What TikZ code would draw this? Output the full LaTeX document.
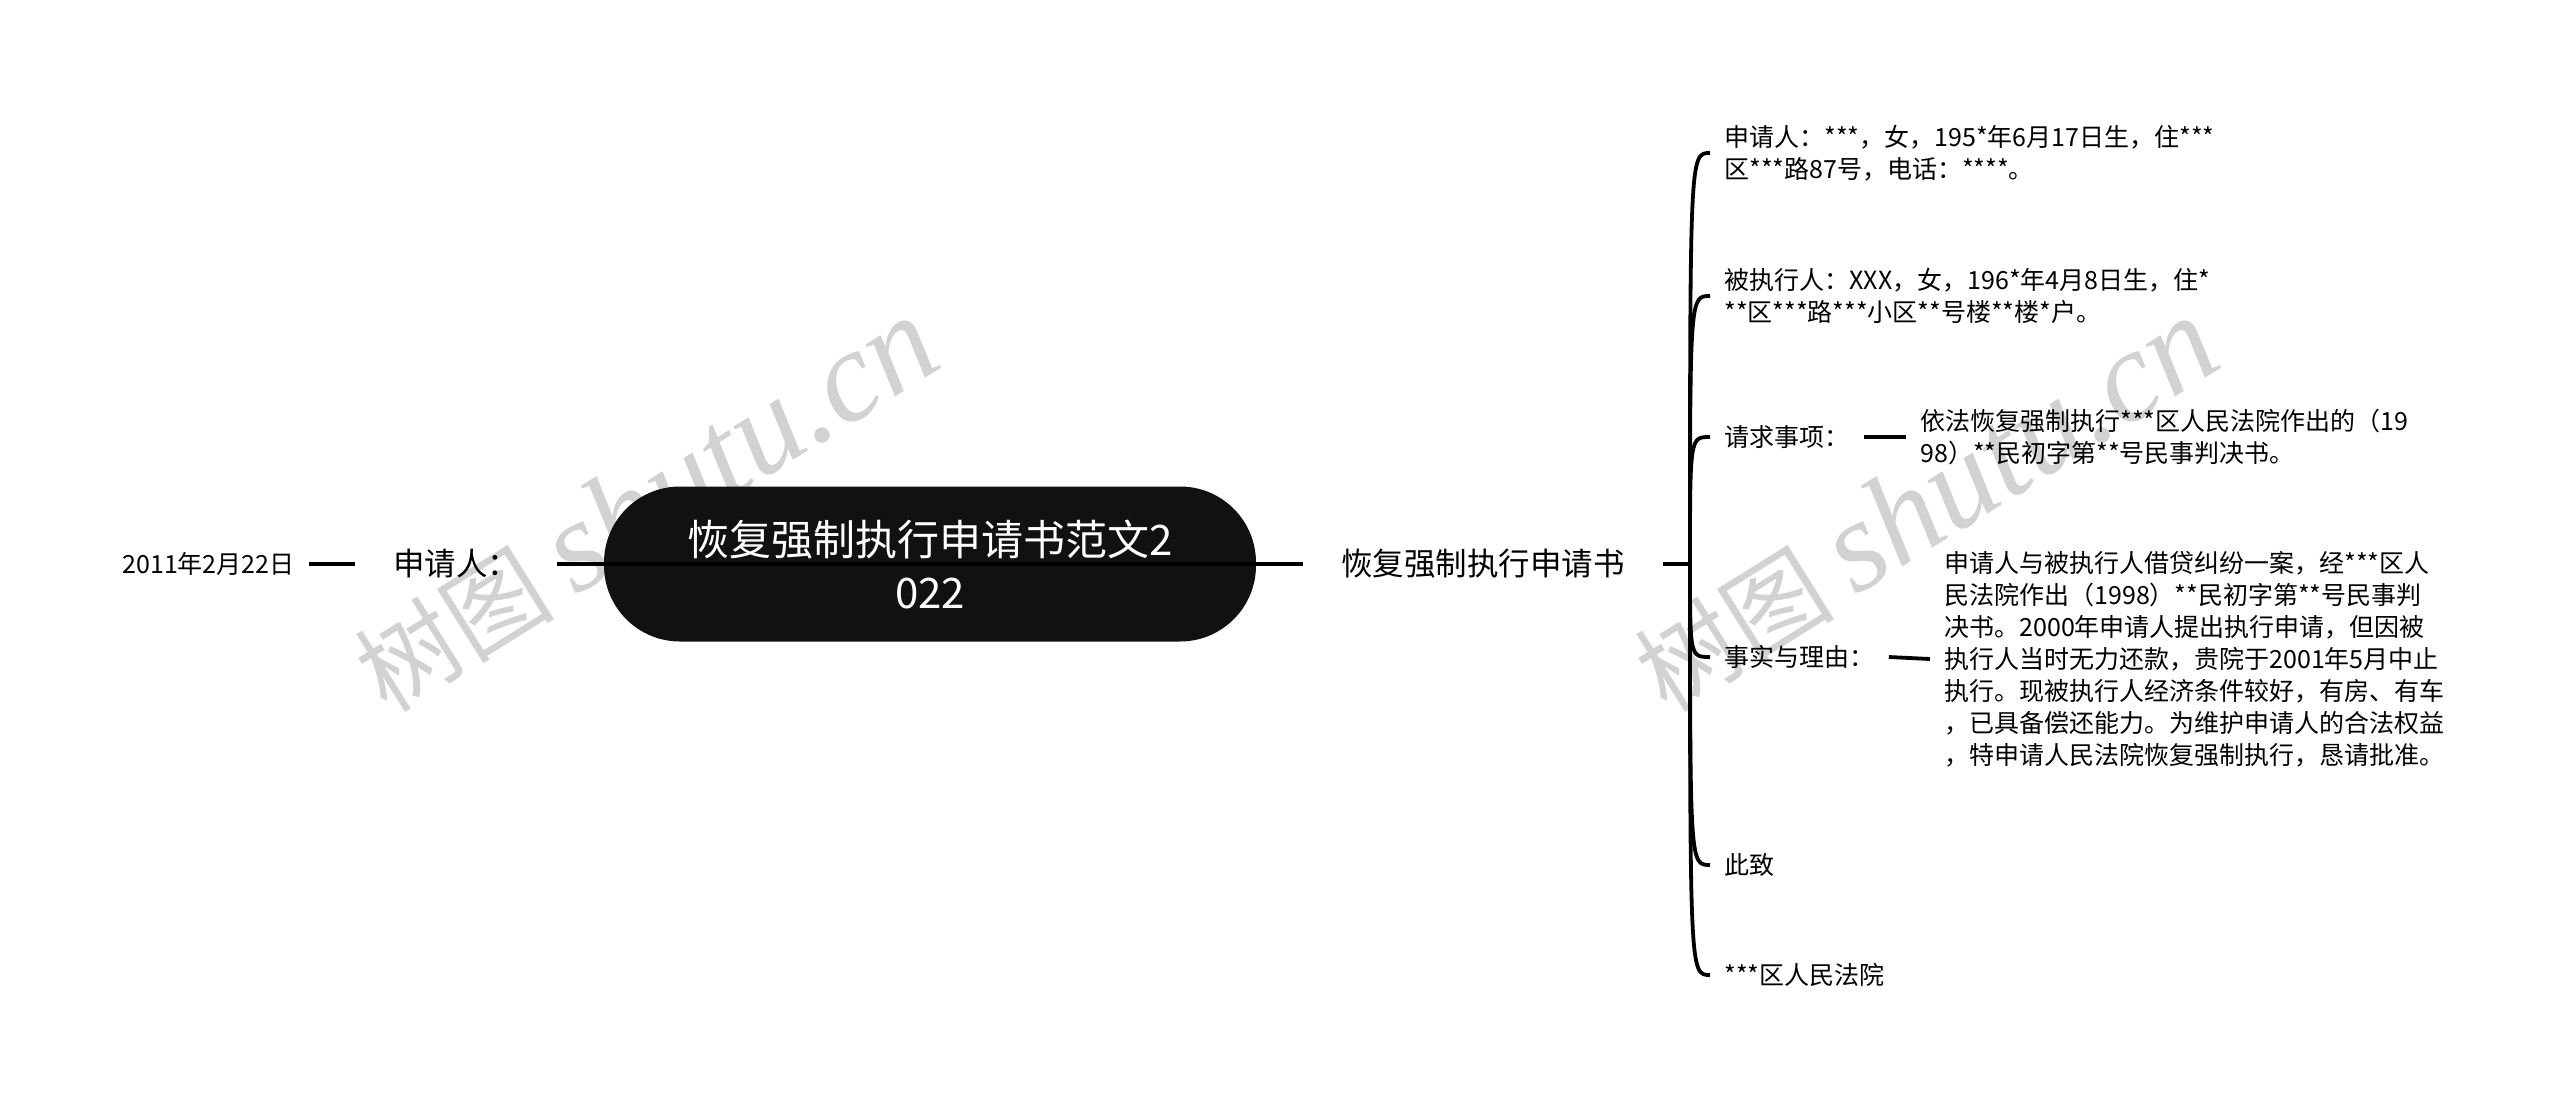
\documentclass[tikz,border=0pt]{standalone}
\usepackage{fontspec}
\setmainfont{Noto Sans CJK SC}
\newfontfamily\wmlatin{Liberation Serif}
\usetikzlibrary{positioning}
\definecolor{rootfill}{HTML}{111111}
\definecolor{wmgray}{HTML}{D2D2D2}
\tikzset{
  root/.style={fill=rootfill, text=white, rounded corners=38pt, minimum width=326pt,
    minimum height=77.5pt, inner sep=0pt, align=center, font=\fontsize{21}{26.5}\selectfont},
  topic/.style={inner xsep=19pt, font=\fontsize{15.75}{20}\selectfont},
  leaf/.style={inner xsep=7pt, align=left, font=\fontsize{12.5}{16}\selectfont},
  edge/.style={line width=1.9pt},
  watermark/.style={text=wmgray, rotate=32, font=\fontsize{50}{56}\selectfont}
}

\begin{document}
\begin{tikzpicture}[x=0.5pt,y=-0.5pt]
\useasboundingbox (0,0) rectangle (2560,1108);
\node [watermark] (wm1) at (645,505) {树图 {\wmlatin\itshape\fontsize{65}{70}\selectfont shutu.cn}};
\node [watermark] (wm2) at (1925,505) {树图 {\wmlatin\itshape\fontsize{65}{70}\selectfont shutu.cn}};
\node [root] (root) at (930,564) {恢复强制执行申请书范文2\\022};
\node [topic] (applicant) at (456,564) {申请人：};
\node [leaf, anchor=east] (date) at (309,564) {2011年2月22日};
\node [topic] (doc) at (1483,564) {恢复强制执行申请书};
\coordinate (fork) at (1690,564);
\node [leaf, anchor=west] (c1) at (1710,153) {申请人：***，女，195*年6月17日生，住***\\区***路87号，电话：****。};
\node [leaf, anchor=west] (c2) at (1710,296) {被执行人：XXX，女，196*年4月8日生，住*\\**区***路***小区**号楼**楼*户。};
\node [leaf, anchor=west] (c3) at (1710,437) {请求事项：};
\node [leaf, anchor=west] (c4) at (1710,657) {事实与理由：};
\node [leaf, anchor=west] (c5) at (1710,865) {此致};
\node [leaf, anchor=west] (c6) at (1710,975) {***区人民法院};
\node [leaf, anchor=west] (s3) at (1906,437) {依法恢复强制执行***区人民法院作出的（19\\98）**民初字第**号民事判决书。};
\node [leaf, anchor=west] (s4) at (1930,659) {申请人与被执行人借贷纠纷一案，经***区人\\民法院作出（1998）**民初字第**号民事判\\决书。2000年申请人提出执行申请，但因被\\执行人当时无力还款，贵院于2001年5月中止\\执行。现被执行人经济条件较好，有房、有车\\，已具备偿还能力。为维护申请人的合法权益\\，特申请人民法院恢复强制执行，恳请批准。};
\draw [edge] (root.center) -- (applicant.east);
\draw [edge] (root.center) -- (doc.west);
\draw [edge] (applicant.west) -- (date.east);
\draw [edge] (doc.east) -- (fork);
\foreach \c in {c1,c2,c3,c4,c5,c6}
  \draw [edge] (fork) .. controls (fork |- \c.west) .. (\c.west);
\draw [edge] (c3.east) -- (s3.west);
\draw [edge] (c4.east) -- (s4.west);
\end{tikzpicture}
\end{document}
